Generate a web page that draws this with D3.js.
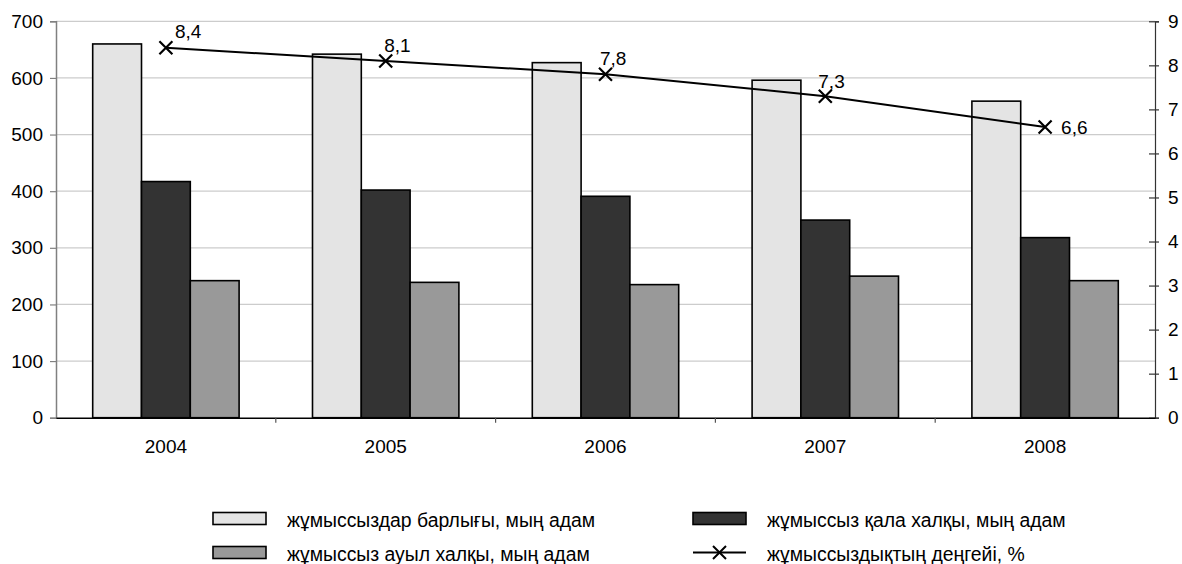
<!DOCTYPE html>
<html><head><meta charset="utf-8">
<script src="https://cdn.jsdelivr.net/npm/d3@7"></script>
<style>
body{margin:0;background:#fff;}
svg text{font-family:"Liberation Sans",Arial,sans-serif;fill:#000;}
</style></head>
<body>
<svg id="chart" width="1182" height="564"></svg>
<script>
const years = ["2004","2005","2006","2007","2008"];
const seriesNames = [
  "жұмыссыздар барлығы, мың адам",
  "жұмыссыз қала халқы, мың адам",
  "жұмыссыз ауыл халқы, мың адам"
];
const totalUnemployed = [660, 642, 627, 596, 559];
const urbanUnemployed = [417, 402, 391, 349, 318];
const ruralUnemployed = [242, 239, 235, 250, 242];
const rateName = "жұмыссыздықтың деңгейі, %";
const rateValues = [8.4, 8.1, 7.8, 7.3, 6.6];
const rateLabels = ["8,4","8,1","7,8","7,3","6,6"];
const leftTicks = [0,100,200,300,400,500,600,700];
const rightTicks = [0,1,2,3,4,5,6,7,8,9];

const barColors = ["#e4e4e4","#333333","#999999"];
const seriesValues = [totalUnemployed, urbanUnemployed, ruralUnemployed];
const FS = 19;

const svg = d3.select("#chart");
const L = 56, R = 1155, T = 21.3, B = 417.7;

const x0 = d3.scaleBand().domain(years).range([L, R]).paddingInner(0).paddingOuter(0);
const x1 = d3.scaleBand().domain(d3.range(3)).range([0, x0.bandwidth()]).paddingInner(0).paddingOuter(0.752);
const yL = d3.scaleLinear().domain([0,700]).range([B, T]);
const yR = d3.scaleLinear().domain([0,9]).range([B, T]);

// gridlines
svg.append("g").selectAll("line").data(leftTicks.filter(d=>d>0)).join("line")
  .attr("x1", L).attr("x2", R).attr("y1", d=>yL(d)).attr("y2", d=>yL(d))
  .attr("stroke", "#cccccc").attr("stroke-width", 1.2);

// bars
const groups = svg.append("g").selectAll("g").data(years).join("g")
  .attr("transform", d=>`translate(${x0(d)},0)`);
groups.selectAll("rect").data((d,i)=>seriesValues.map((s,j)=>({j, v:s[i]}))).join("rect")
  .attr("x", d=>x1(d.j)).attr("width", x1.bandwidth())
  .attr("y", d=>yL(d.v)).attr("height", d=>B - yL(d.v))
  .attr("fill", d=>barColors[d.j]).attr("stroke", "#000").attr("stroke-width", 1.6);

// left axis
const axL = svg.append("g").attr("transform", `translate(${L},0)`)
  .call(d3.axisLeft(yL).tickValues(leftTicks).tickSize(6).tickPadding(7));
axL.select(".domain").attr("stroke", "#808080").attr("stroke-width", 1.5);
axL.selectAll(".tick line").attr("stroke", "#808080").attr("stroke-width", 1.2);
axL.selectAll("text").attr("font-size", FS).attr("font-family", "Liberation Sans, Arial").attr("fill","#000");

// right axis
const axR = svg.append("g").attr("transform", `translate(${R},0)`)
  .call(d3.axisRight(yR).tickValues(rightTicks).tickSize(4).tickPadding(9));
axR.select(".domain").attr("stroke", "#333").attr("stroke-width", 1.2);
axR.selectAll(".tick line").attr("x1", -6).attr("stroke", "#333").attr("stroke-width", 1.2);
axR.selectAll("text").attr("font-size", FS).attr("font-family", "Liberation Sans, Arial").attr("fill","#000");

// bottom axis
const axB = svg.append("g").attr("transform", `translate(0,${B})`)
  .call(d3.axisBottom(x0).tickSize(0).tickPadding(22));
axB.select(".domain").attr("stroke", "#000").attr("stroke-width", 1.5);
axB.selectAll("text").attr("font-size", FS).attr("font-family", "Liberation Sans, Arial").attr("fill","#000");
svg.append("g").selectAll("line").data(years.slice(1)).join("line")
  .attr("x1", d=>x0(d)).attr("x2", d=>x0(d))
  .attr("y1", B).attr("y2", B+5).attr("stroke", "#555").attr("stroke-width", 1.2);

// line
const cx = d => x0(d) + x0.bandwidth()/2;
const line = d3.line().x((d,i)=>cx(years[i])).y(d=>yR(d));
svg.append("path").datum(rateValues).attr("d", line)
  .attr("fill","none").attr("stroke","#000").attr("stroke-width", 2);
const m = 6.5;
const marks = svg.append("g").selectAll("g").data(rateValues).join("g")
  .attr("transform", (d,i)=>`translate(${cx(years[i])},${yR(d)})`);
marks.append("path").attr("d", `M${-m},${-m}L${m},${m}M${-m},${m}L${m},${-m}`)
  .attr("stroke","#000").attr("stroke-width", 2.2);
const labelDx = [9, -1.5, -5.5, -7, 16];
const labelDy = [-10, -9, -9, -8, 7];
marks.append("text").text((d,i)=>rateLabels[i])
  .attr("x", (d,i)=>labelDx[i]).attr("y", (d,i)=>labelDy[i])
  .attr("font-size", FS);

// legend
const legendItems = [
  {name: seriesNames[0], type:"bar", color: barColors[0], x:213, y:512.5},
  {name: seriesNames[1], type:"bar", color: barColors[1], x:693, y:512.5},
  {name: seriesNames[2], type:"bar", color: barColors[2], x:213, y:546.5},
  {name: rateName, type:"line", x:693, y:546.5}
];
const lg = svg.append("g").selectAll("g").data(legendItems).join("g")
  .attr("transform", d=>`translate(${d.x},${d.y})`);
lg.filter(d=>d.type==="bar").append("rect")
  .attr("width", 53).attr("height", 12).attr("fill", d=>d.color)
  .attr("stroke","#000").attr("stroke-width", 1.6);
const ll = lg.filter(d=>d.type==="line");
ll.append("line").attr("x1",0).attr("x2",53).attr("y1",6).attr("y2",6).attr("stroke","#000").attr("stroke-width",2);
ll.append("path").attr("d", `M${26.5-m},${6-m}L${26.5+m},${6+m}M${26.5-m},${6+m}L${26.5+m},${6-m}`)
  .attr("stroke","#000").attr("stroke-width",2);
lg.append("text").text(d=>d.name).attr("x", 74).attr("y", 14.5).attr("font-size", 19.4);
</script>
</body></html>
